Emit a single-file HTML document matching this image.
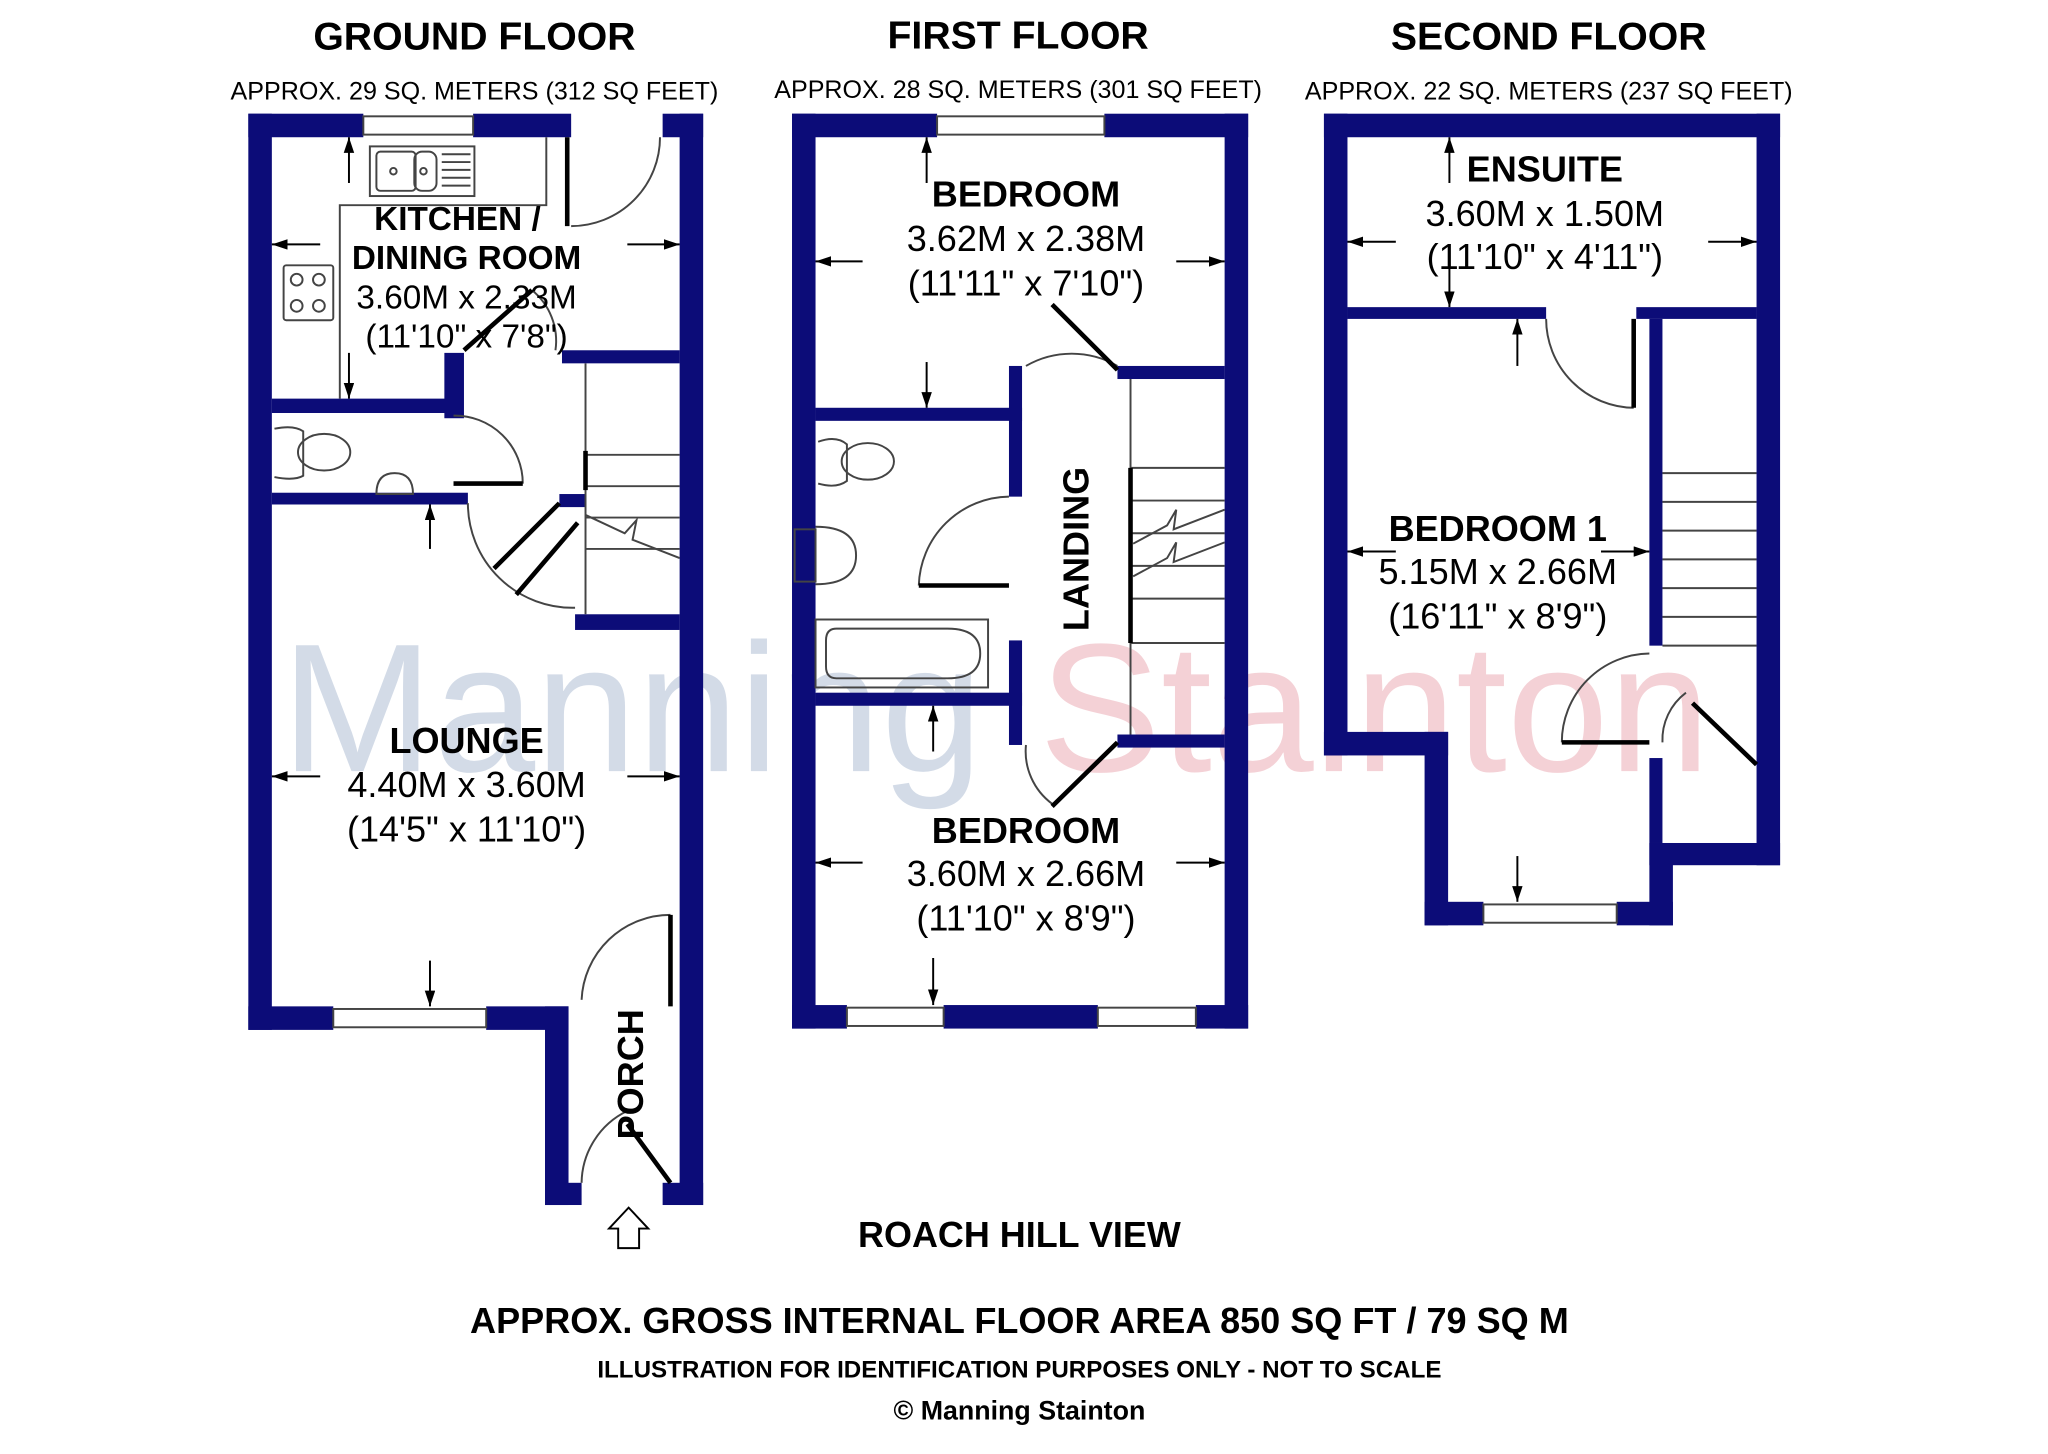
<!DOCTYPE html>
<html><head><meta charset="utf-8"><style>
html,body{margin:0;padding:0;background:#fff}
svg{display:block}
text{font-family:"Liberation Sans",Arial,sans-serif}
</style></head><body>
<svg width="2048" height="1454" viewBox="0 0 1567 1112.5" xmlns="http://www.w3.org/2000/svg">
<defs>
<marker id="ah" markerWidth="12" markerHeight="10" refX="12" refY="4" orient="auto-start-reverse" markerUnits="userSpaceOnUse">
<path d="M0,0 L12,4 L0,8 z" fill="#000"/>
</marker>
</defs>
<rect width="1567" height="1113" fill="#fff"/>
<!-- watermark -->
<text x="215" y="590" font-size="140" fill="#c9d3e2" opacity="0.8">Manning</text>
<text x="795" y="590" font-size="140" fill="#f2c6cc" opacity="0.8">Stainton</text>

<g fill="#0c0c78">
<!-- GROUND FLOOR -->
<rect x="190" y="87" width="18" height="701"/>
<rect x="190" y="87" width="88" height="18"/>
<rect x="362" y="87" width="75" height="18"/>
<rect x="507" y="87" width="31" height="18"/>
<rect x="520" y="87" width="18" height="835"/>
<rect x="190" y="770" width="65" height="18"/>
<rect x="372" y="770" width="63" height="18"/>
<rect x="417" y="770" width="18" height="152"/>
<rect x="417" y="905" width="28" height="17"/>
<rect x="507" y="905" width="31" height="17"/>
<rect x="208" y="305" width="142" height="11"/>
<rect x="340" y="270" width="15" height="50"/>
<rect x="208" y="377" width="150" height="9"/>
<rect x="430" y="268" width="90" height="10"/>
<rect x="440" y="470" width="80" height="12"/>
<rect x="428" y="378" width="20" height="10"/>
<!-- FIRST FLOOR -->
<rect x="606" y="87" width="18" height="700"/>
<rect x="606" y="87" width="111" height="18"/>
<rect x="845" y="87" width="110" height="18"/>
<rect x="937" y="87" width="18" height="700"/>
<rect x="606" y="769" width="42" height="18"/>
<rect x="722" y="769" width="118" height="18"/>
<rect x="915" y="769" width="40" height="18"/>
<rect x="855" y="280" width="82" height="10"/>
<rect x="624" y="312" width="158" height="10"/>
<rect x="772" y="280" width="10" height="100"/>
<rect x="772" y="490" width="10" height="80"/>
<rect x="624" y="530" width="158" height="10"/>
<rect x="855" y="562" width="82" height="10"/>
<!-- SECOND FLOOR -->
<rect x="1013" y="87" width="18" height="491"/>
<rect x="1013" y="87" width="349" height="18"/>
<rect x="1344" y="87" width="18" height="575"/>
<rect x="1013" y="560" width="95" height="18"/>
<rect x="1090" y="560" width="18" height="148"/>
<rect x="1090" y="690" width="45" height="18"/>
<rect x="1237" y="690" width="43" height="18"/>
<rect x="1262" y="645" width="18" height="63"/>
<rect x="1262" y="645" width="100" height="17"/>
<rect x="1031" y="235" width="152" height="9"/>
<rect x="1252" y="235" width="92" height="9"/>
<rect x="1262" y="244" width="10" height="250"/>
<rect x="1262" y="580" width="10" height="65"/>
</g>

<g fill="none" stroke="#444" stroke-width="1.5">
<!-- windows -->
<rect x="278" y="89" width="84" height="14"/><rect x="255" y="772" width="117" height="14"/>
<rect x="717" y="89" width="128" height="14"/><rect x="648" y="771" width="74" height="14"/><rect x="840" y="771" width="75" height="14"/>
<rect x="1135" y="692" width="102" height="14"/>
<!-- kitchen fixtures -->
<polyline points="418,105 418,157 260,157 260,305"/>
<rect x="283" y="112" width="80" height="38"/>
<rect x="288" y="116" width="30" height="30" rx="3"/><rect x="317" y="116" width="17" height="30" rx="6"/>
<line x1="338" y1="118" x2="360" y2="118"/><line x1="338" y1="124" x2="360" y2="124"/><line x1="338" y1="130" x2="360" y2="130"/><line x1="338" y1="136" x2="360" y2="136"/><line x1="338" y1="142" x2="360" y2="142"/>
<circle cx="301" cy="131" r="2.5"/><circle cx="324" cy="131" r="2.5"/>
<rect x="217" y="203" width="38" height="42" rx="2"/>
<circle cx="227" cy="214" r="4.5"/><circle cx="244" cy="214" r="4.5"/><circle cx="227" cy="234" r="4.5"/><circle cx="244" cy="234" r="4.5"/>
<!-- WC -->
<ellipse cx="248" cy="346" rx="20" ry="14"/><path d="M210,328 Q225,325 232,330 L232,364 Q225,368 210,365"/>
<path d="M288,378 Q288,362 302,362 Q316,362 316,378 Z"/>
<ellipse cx="664" cy="353" rx="20" ry="14"/><path d="M626,338 Q640,333 648,340 L648,368 Q640,374 626,370"/>
<path d="M624,403 Q655,403 655,425 Q655,447 624,447"/><rect x="608" y="405" width="16" height="40"/>
<rect x="624" y="474" width="132" height="52"/><path d="M640,481 L725,481 Q750,481 750,500 Q750,519 725,519 L640,519 Q632,519 632,510 L632,490 Q632,481 640,481 Z"/>
<!-- stairs ground -->
<line x1="448" y1="278" x2="448" y2="470"/>
<line x1="448" y1="348" x2="520" y2="348"/><line x1="448" y1="372" x2="520" y2="372"/><line x1="448" y1="396" x2="520" y2="396"/><line x1="448" y1="420" x2="520" y2="420"/>
<polyline points="448,394 478,408 487,398 484,413 520,427"/>
<!-- stairs first -->
<line x1="865" y1="290" x2="865" y2="562"/>
<line x1="865" y1="358" x2="937" y2="358"/><line x1="865" y1="383" x2="937" y2="383"/><line x1="865" y1="408" x2="937" y2="408"/><line x1="865" y1="433" x2="937" y2="433"/><line x1="865" y1="458" x2="937" y2="458"/><line x1="865" y1="492" x2="937" y2="492"/>
<polyline points="867,416 893,402 900,390 898,405 937,390"/>
<polyline points="867,441 893,427 900,415 898,430 937,415"/>
<!-- stairs second -->
<line x1="1272" y1="362" x2="1344" y2="362"/><line x1="1272" y1="384" x2="1344" y2="384"/><line x1="1272" y1="406" x2="1344" y2="406"/><line x1="1272" y1="428" x2="1344" y2="428"/><line x1="1272" y1="450" x2="1344" y2="450"/><line x1="1272" y1="472" x2="1344" y2="472"/><line x1="1272" y1="494" x2="1344" y2="494"/>
<!-- door arcs -->
<path d="M437,173 A68,68 0 0 0 505,105"/>
<path d="M347,318 A52,52 0 0 1 400,370"/>
<path d="M407,222 A50,50 0 0 1 425,268"/>
<path d="M358,385 A80,80 0 0 0 440,465"/>
<path d="M445,765 A68,68 0 0 1 513,700"/>
<path d="M445,905 A62,62 0 0 1 480,850"/>
<path d="M785,280 A70,70 0 0 1 855,280"/>
<path d="M703,448 A70,70 0 0 1 772,380"/>
<path d="M785,570 A50,50 0 0 0 805,615"/>
<path d="M1183,244 A68,68 0 0 0 1250,312"/>
<path d="M1195,568 A68,68 0 0 1 1262,500"/>
<path d="M1272,568 A45,45 0 0 1 1290,530"/>
</g>
<g stroke="#000" stroke-width="3.5">
<line x1="378" y1="435" x2="428" y2="385"/><line x1="395" y1="455" x2="442" y2="400"/>
<line x1="347" y1="370" x2="400" y2="370"/>
<line x1="355" y1="268" x2="407" y2="222"/>
<line x1="434" y1="105" x2="434" y2="173"/>
<line x1="448" y1="345" x2="448" y2="375"/>
<line x1="865" y1="358" x2="865" y2="492"/>
<line x1="513" y1="700" x2="513" y2="770"/>
<line x1="480" y1="860" x2="513" y2="905"/>
<line x1="805" y1="233" x2="855" y2="283"/>
<line x1="703" y1="448" x2="772" y2="448"/>
<line x1="805" y1="617" x2="855" y2="568"/>
<line x1="1250" y1="244" x2="1250" y2="312"/>
<line x1="1195" y1="568" x2="1262" y2="568"/>
<line x1="1295" y1="538" x2="1344" y2="585"/>
</g>
<!-- dimension arrows -->
<g stroke="#000" stroke-width="1.5" marker-start="url(#ah)">
<line x1="208" y1="187" x2="245" y2="187"/><line x1="520" y1="187" x2="480" y2="187"/>
<line x1="267" y1="105" x2="267" y2="140"/><line x1="267" y1="305" x2="267" y2="270"/>
<line x1="208" y1="594" x2="245" y2="594"/><line x1="520" y1="594" x2="480" y2="594"/>
<line x1="329" y1="386" x2="329" y2="420"/><line x1="329" y1="770" x2="329" y2="735"/>
<line x1="624" y1="200" x2="660" y2="200"/><line x1="937" y1="200" x2="900" y2="200"/>
<line x1="709" y1="105" x2="709" y2="140"/><line x1="709" y1="312" x2="709" y2="277"/>
<line x1="624" y1="660" x2="660" y2="660"/><line x1="937" y1="660" x2="900" y2="660"/>
<line x1="714" y1="540" x2="714" y2="575"/><line x1="714" y1="769" x2="714" y2="733"/>
<line x1="1031" y1="185" x2="1068" y2="185"/><line x1="1344" y1="185" x2="1307" y2="185"/>
<line x1="1109" y1="105" x2="1109" y2="140"/><line x1="1109" y1="235" x2="1109" y2="200"/>
<line x1="1031" y1="422" x2="1068" y2="422"/><line x1="1262" y1="422" x2="1225" y2="422"/>
<line x1="1161" y1="244" x2="1161" y2="280"/><line x1="1161" y1="690" x2="1161" y2="655"/>
</g>
<path d="M473,955 L473,940 L466,940 L481,924 L496,940 L489,940 L489,955 Z" fill="none" stroke="#000" stroke-width="1.5"/>

<!-- text -->
<g text-anchor="middle" fill="#000">
<text x="363" y="38" font-size="30" font-weight="bold">GROUND FLOOR</text>
<text x="779" y="37" font-size="30" font-weight="bold">FIRST FLOOR</text>
<text x="1185" y="38" font-size="30" font-weight="bold">SECOND FLOOR</text>
<text x="363" y="76" font-size="19.2">APPROX. 29 SQ. METERS (312 SQ FEET)</text>
<text x="779" y="75" font-size="19.2">APPROX. 28 SQ. METERS (301 SQ FEET)</text>
<text x="1185" y="76" font-size="19.2">APPROX. 22 SQ. METERS (237 SQ FEET)</text>
<text x="350" y="176" font-size="25.5" font-weight="bold">KITCHEN /</text>
<text x="357" y="206" font-size="25.5" font-weight="bold">DINING ROOM</text>
<text x="357" y="236" font-size="25.5">3.60M x 2.33M</text>
<text x="357" y="266" font-size="25.5">(11'10" x 7'8")</text>
<text x="357" y="576" font-size="27.6" font-weight="bold">LOUNGE</text>
<text x="357" y="610" font-size="27.6">4.40M x 3.60M</text>
<text x="357" y="644" font-size="27.6">(14'5" x 11'10")</text>
<text x="785" y="158" font-size="27.6" font-weight="bold">BEDROOM</text>
<text x="785" y="192" font-size="27.6">3.62M x 2.38M</text>
<text x="785" y="226" font-size="27.6">(11'11" x 7'10")</text>
<text x="785" y="645" font-size="27.6" font-weight="bold">BEDROOM</text>
<text x="785" y="678" font-size="27.6">3.60M x 2.66M</text>
<text x="785" y="712" font-size="27.6">(11'10" x 8'9")</text>
<text x="1182" y="139" font-size="27.6" font-weight="bold">ENSUITE</text>
<text x="1182" y="173" font-size="27.6">3.60M x 1.50M</text>
<text x="1182" y="206" font-size="27.6">(11'10" x 4'11")</text>
<text x="1146" y="414" font-size="27.6" font-weight="bold">BEDROOM 1</text>
<text x="1146" y="447" font-size="27.6">5.15M x 2.66M</text>
<text x="1146" y="481" font-size="27.6">(16'11" x 8'9")</text>
<text x="780" y="954" font-size="27.5" font-weight="bold">ROACH HILL VIEW</text>
<text x="780" y="1020" font-size="27.6" font-weight="bold">APPROX. GROSS INTERNAL FLOOR AREA 850 SQ FT / 79 SQ M</text>
<text x="780" y="1054" font-size="18.5" font-weight="bold">ILLUSTRATION FOR IDENTIFICATION PURPOSES ONLY - NOT TO SCALE</text>
<text x="780" y="1086" font-size="20.5" font-weight="bold">© Manning Stainton</text>
<text transform="translate(833,420) rotate(-90)" font-size="27.6" font-weight="bold">LANDING</text>
<text transform="translate(492,822) rotate(-90)" font-size="27.6" font-weight="bold">PORCH</text>
</g>
</svg>
</body></html>
